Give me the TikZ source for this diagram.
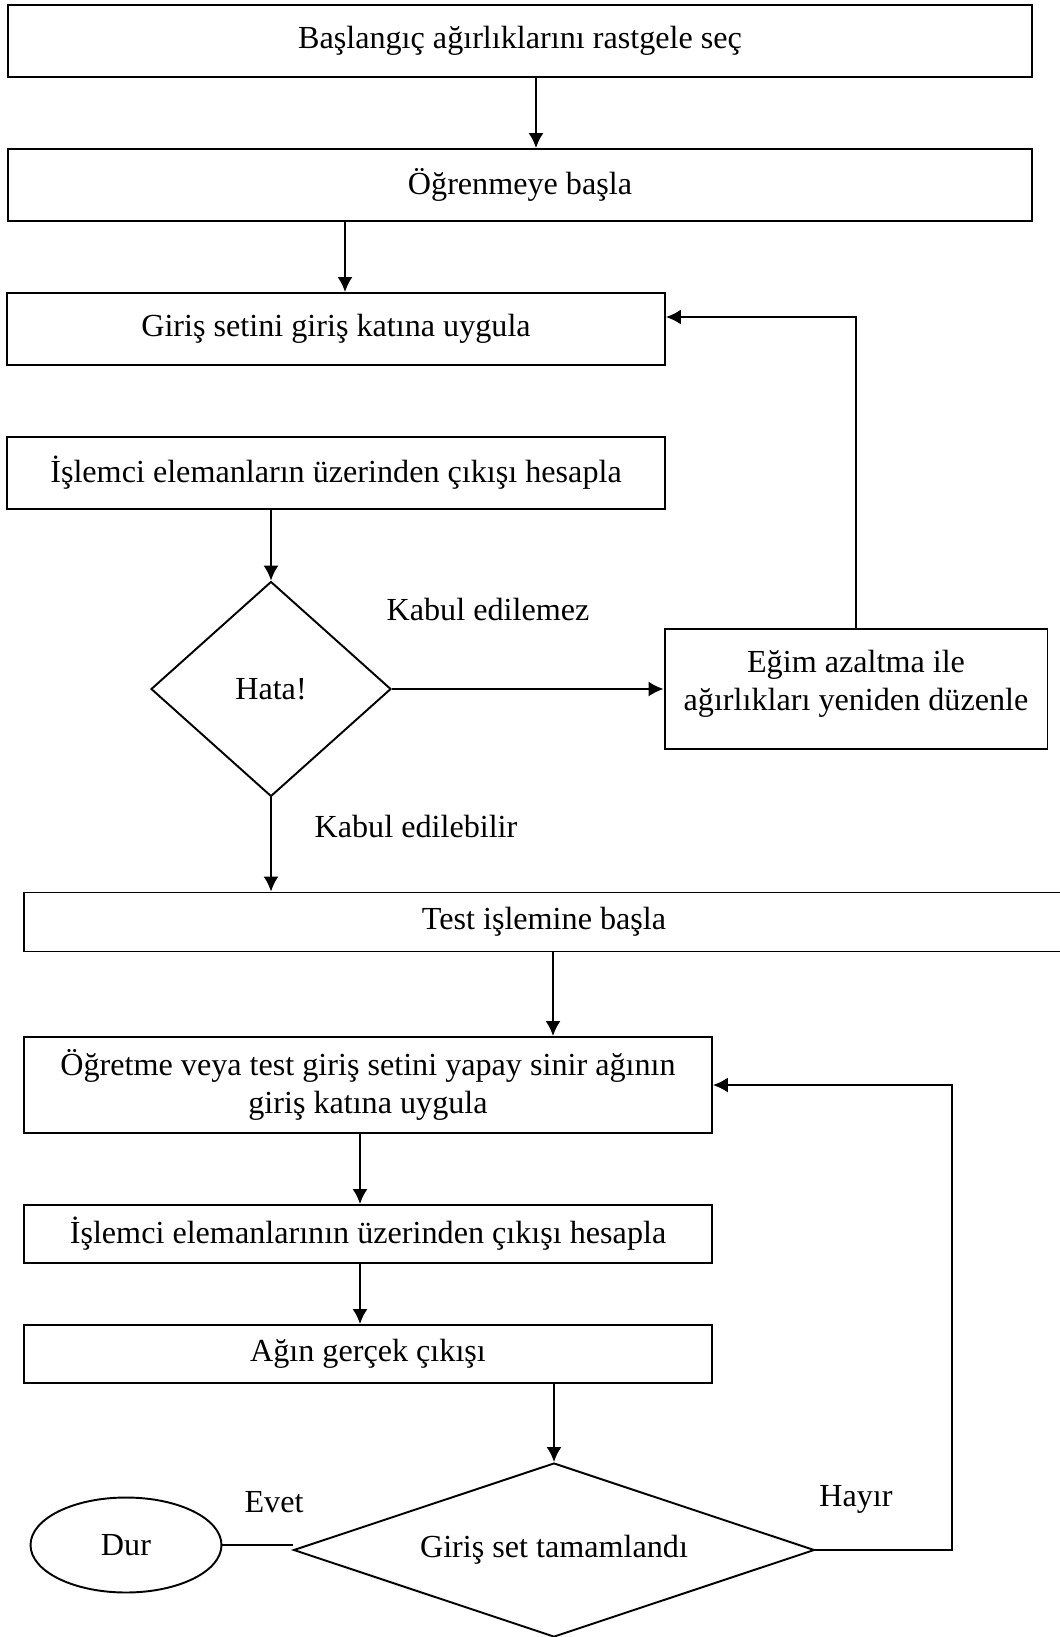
\documentclass[tikz,border=0pt]{standalone}
\usepackage{fontspec}
\setmainfont{Liberation Serif}
\usetikzlibrary{shapes.geometric,arrows.meta}
\begin{document}
\begin{tikzpicture}[>={Latex[length=3mm,width=3mm]}, x=0.02cm, y=-0.02cm, line width=1.1pt,
  font=\fontsize{18.3}{22}\selectfont,
  blok/.style={draw, rectangle, inner sep=0pt, align=center},
  karar/.style={draw, diamond, inner sep=0pt},
  etiket/.style={inner sep=0pt}]

\useasboundingbox (0,0) rectangle (1060,1637);

% ogrenme
\node[blok, minimum width=20.5cm, minimum height=1.44cm] (secim) at (520,41) {Başlangıç ağırlıklarını rastgele seç};
\node[blok, minimum width=20.5cm, minimum height=1.44cm] (ogren) at (520,185) {Öğrenmeye başla};
\node[blok, minimum width=13.16cm, minimum height=1.44cm] (giris) at (336,329) {Giriş setini giriş katına uygula};
\node[blok, minimum width=13.16cm, minimum height=1.44cm] (islem) at (336,473) {İşlemci elemanların üzerinden çıkışı hesapla};
\node[karar, shape aspect=1.12, minimum width=4.8cm, minimum height=4.3cm] (hata) at (271,689) {Hata!};
\node[blok, minimum width=7.66cm, minimum height=2.4cm] (egim) at (856,689) {Eğim azaltma ile\\ağırlıkları yeniden düzenle\\[-12pt]};

% test
\node[blok, minimum width=20.8cm, minimum height=1.18cm] (test) at (544,922) {Test işlemine başla};
\node[blok, minimum width=13.76cm, minimum height=1.92cm] (uygula) at (368,1085) {Öğretme veya test giriş setini yapay sinir ağının\\giriş katına uygula};
\node[blok, minimum width=13.76cm, minimum height=1.16cm] (hesap) at (368,1234) {İşlemci elemanlarının üzerinden çıkışı hesapla};
\node[blok, minimum width=13.76cm, minimum height=1.16cm] (cikis) at (368,1354) {Ağın gerçek çıkışı};
\node[karar, shape aspect=3, minimum width=10.42cm, minimum height=3.48cm] (tamam) at (554,1550) {Giriş set tamamlandı};
\node[draw, ellipse, minimum width=3.82cm, minimum height=1.9cm] (dur) at (126,1545) {Dur};

\node[etiket] (ret) at (488,609) {Kabul edilemez};
\node[etiket] (kabul) at (416,826) {Kabul edilebilir};
\node[etiket] (evet) at (274,1502) {Evet};
\node[etiket] (hayir) at (856,1499) {Hayır};

\coordinate (k1) at (536,0);
\coordinate (k2) at (345,0);
\coordinate (k3) at (553,0);
\coordinate (k4) at (360,0);
\coordinate (k5) at (952,0);

\draw[->] (secim.south -| k1) -- (ogren.north -| k1);
\draw[->] (ogren.south -| k2) -- (giris.north -| k2);
\draw[->] (islem.south -| hata.north) -- (hata.north);
\draw[->] (hata.east) -- (egim.west);
\draw[->] (egim.north) |- ([yshift=0.24cm]giris.east);
\draw[->] (hata.south) -- (hata.south |- test.north);
\draw[->] (test.south -| k3) -- (uygula.north -| k3);
\draw[->] (uygula.south -| k4) -- (hesap.north -| k4);
\draw[->] (hesap.south -| k4) -- (cikis.north -| k4);
\draw[->] (cikis.south -| tamam.north) -- (tamam.north);
\draw (dur.east) -- (dur.east -| tamam.west);
\draw[->] (tamam.east) -- (tamam.east -| k5) |- (uygula.east);

\end{tikzpicture}
\end{document}
